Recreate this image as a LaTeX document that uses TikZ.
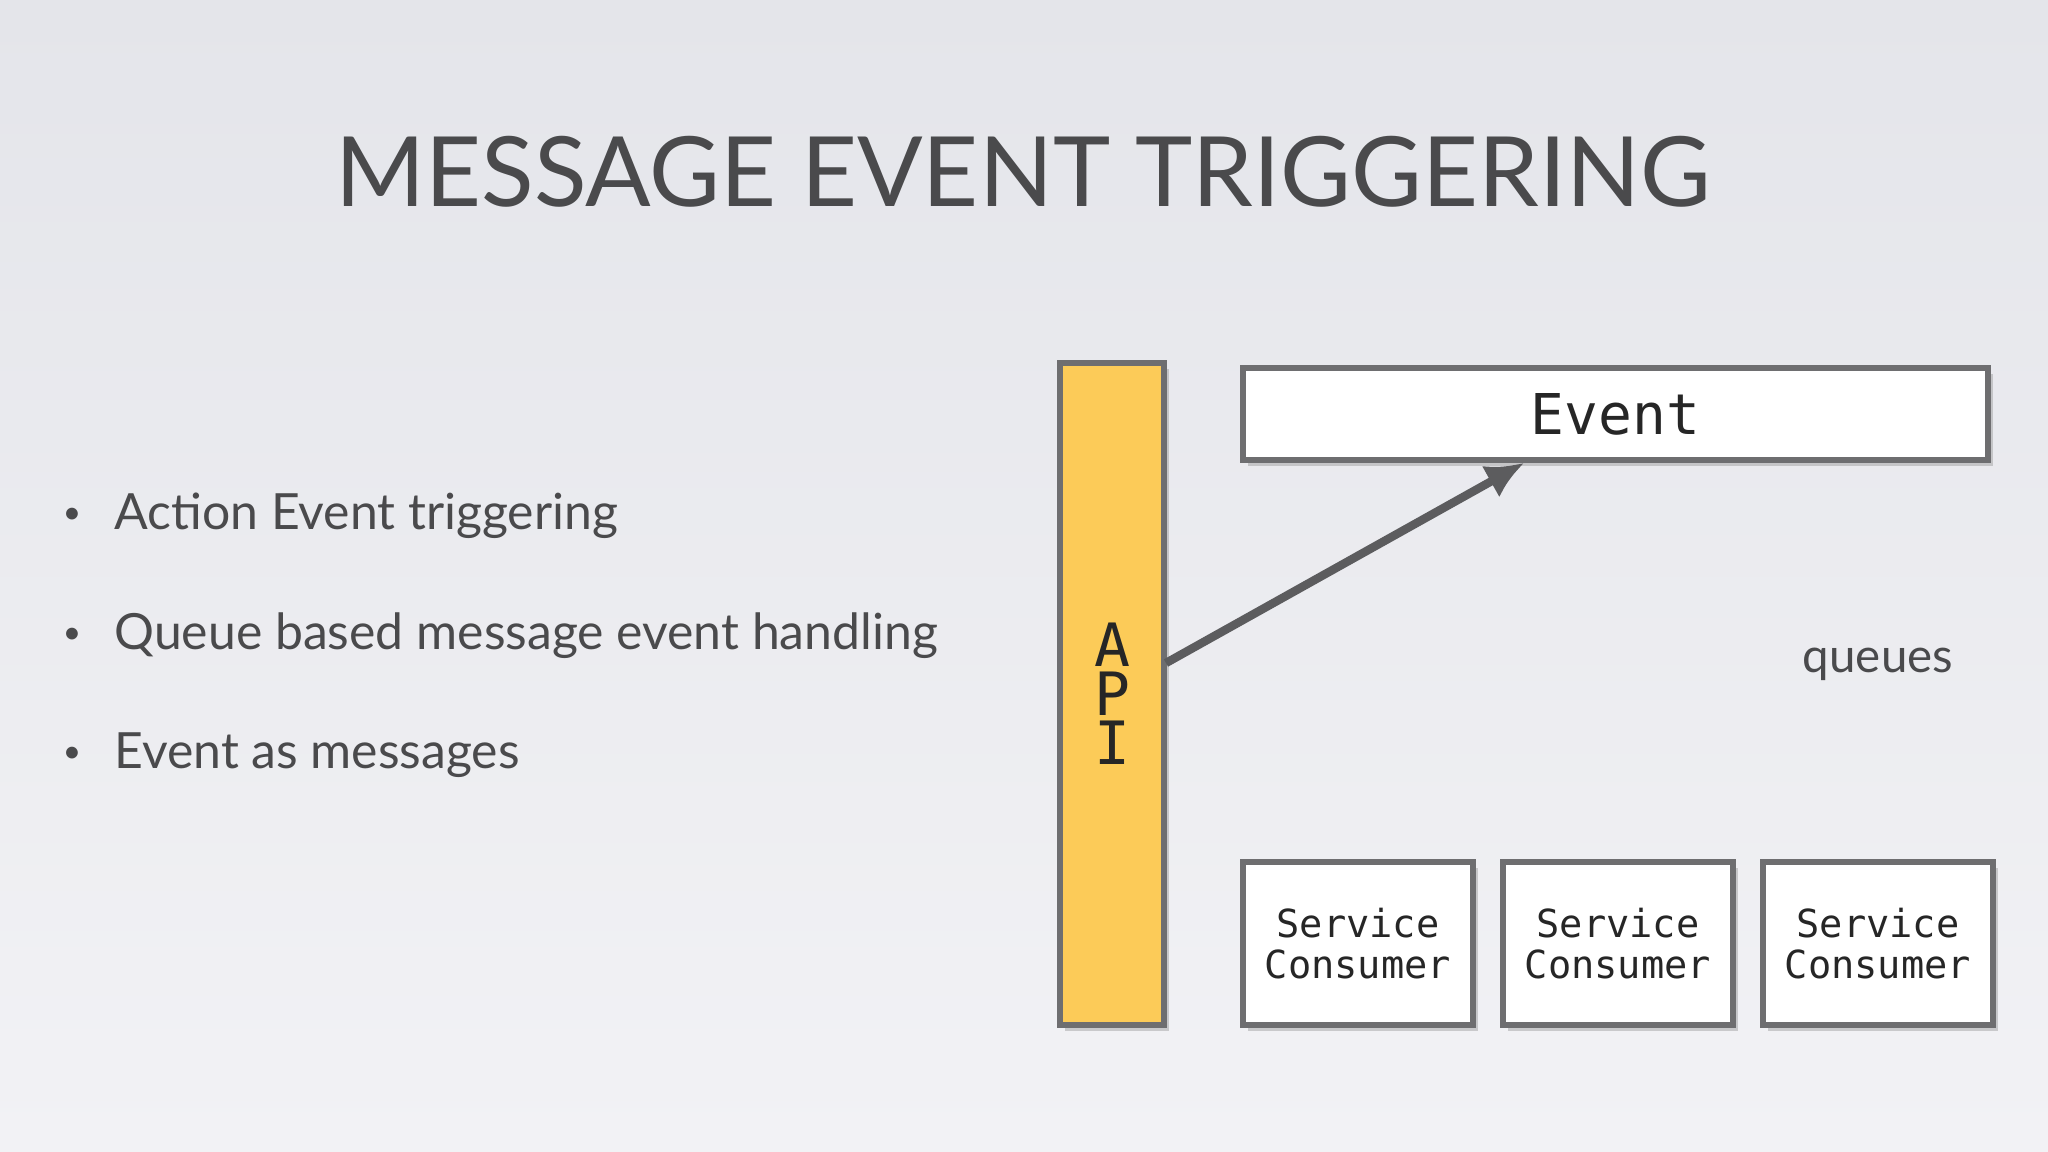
\documentclass[tikz,border=0pt]{standalone}
\usepackage{fontspec}
\setmainfont{Lato}
\newfontfamily\monof{DejaVu Sans Mono}
\usetikzlibrary{shadows,arrows.meta}
\definecolor{bgA}{HTML}{E4E5EA}
\definecolor{bgB}{HTML}{F2F2F5}
\definecolor{txt}{HTML}{4A4A4C}
\definecolor{apiy}{HTML}{FCCB58}
\definecolor{edge}{HTML}{6E6E70}
\begin{document}
\begin{tikzpicture}[
  box/.style={draw=edge,line width=1.8pt,fill=white,drop shadow={shadow xshift=0.05cm,shadow yshift=-0.06cm,opacity=0.35},inner sep=0pt},
  bullet/.style={anchor=west,text=txt,font=\fontsize{14.2}{17}\selectfont},
  svc/.style={box,minimum width=2.3cm,minimum height=1.63cm,font=\monof\fontsize{11}{11.5}\selectfont,align=center,text=black!85}
]
\useasboundingbox[top color=bgA,bottom color=bgB] (0,0) rectangle (20.48,-11.52);
\node[text=txt,font=\fontsize{27.6}{32}\selectfont] (title) at (10.23,-1.72) {MESSAGE EVENT TRIGGERING};
\foreach \y/\t/\n in {-5.16/Action Event triggering/b1,-6.36/Queue based message event handling/b2,-7.55/Event as messages/b3}{
  \node[bullet] (\n) at (1.02,\y) {\t};
  \node[text=txt,font=\fontsize{9}{9}\selectfont] (\n d) at (0.72,\y) {•};
}
\node[box,fill=apiy,minimum width=1.04cm,minimum height=6.62cm] (api) at (11.12,-6.94) {};
\node[font=\monof\fontsize{17}{18}\selectfont,align=center,text=black!85] (apit) at (11.12,-6.94) {A\\[-4pt]P\\[-4pt]I};
\node[box,minimum width=7.45cm,minimum height=0.92cm,font=\monof\fontsize{16}{18}\selectfont,text=black!85] (event) at (16.155,-4.14) {Event};
\coordinate (a0) at (11.66,-6.63);
\coordinate (a1) at (15.24,-4.63);
\draw[txt!90,line width=2.4pt,-{Latex[length=0.38cm,width=0.36cm]}] (a0) -- (a1);
\node[text=txt,font=\fontsize{13.5}{16}\selectfont] (queues) at (18.78,-6.64) {queues};
\node[svc] (s1) at (13.58,-9.435) {Service\\Consumer};
\node[svc] (s2) at (16.18,-9.435) {Service\\Consumer};
\node[svc] (s3) at (18.78,-9.435) {Service\\Consumer};
\end{tikzpicture}
\end{document}
